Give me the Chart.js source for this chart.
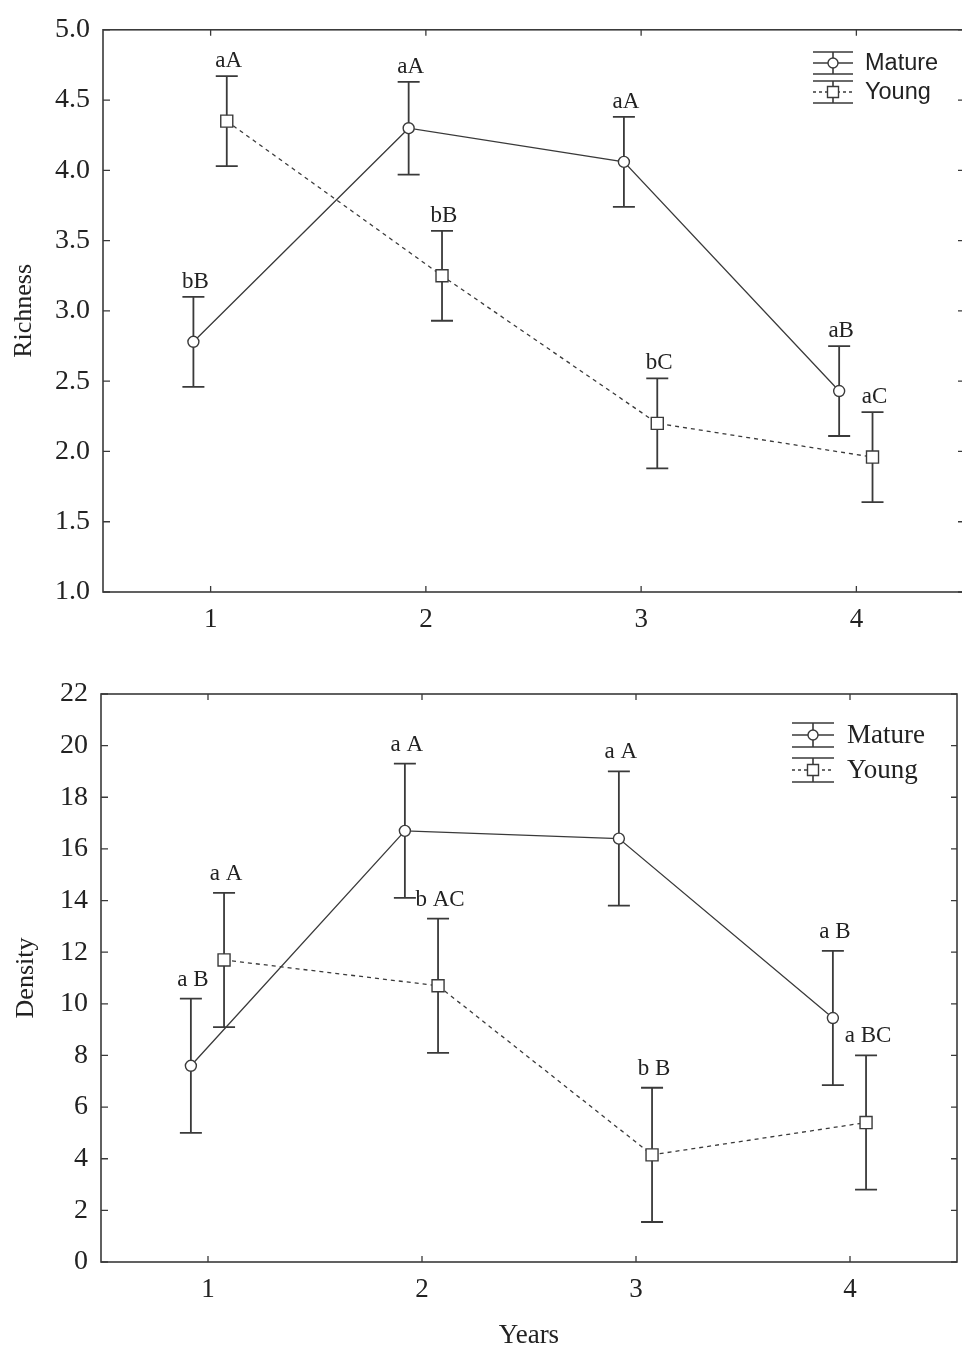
<!DOCTYPE html>
<html>
<head>
<meta charset="utf-8">
<title>Richness and density by year</title>
<script src="https://cdn.jsdelivr.net/npm/chart.js@4.4.1/dist/chart.umd.min.js"></script>
<style>
  html, body { margin: 0; padding: 0; background: #fff; overflow: hidden; }
  body { width: 962px; height: 1347px; position: relative; }
  canvas { position: absolute; left: 0; }
  #richness { top: 0; }
  #density { top: 660px; }
</style>
</head>
<body>
<canvas id="richness" width="970" height="660"></canvas>
<canvas id="density" width="962" height="687"></canvas>
<script>
// values per year, mean and half error bar
const years = [1, 2, 3, 4];
const xTicks = [1, 2, 3, 4];

const richnessMature = [2.78, 4.30, 4.06, 2.43];
const richnessMatureErr = [0.32, 0.33, 0.32, 0.32];
const richnessYoung = [4.35, 3.25, 2.20, 1.96];
const richnessYoungErr = [0.32, 0.32, 0.32, 0.32];
const richnessMatureLetters = ['bB', 'aA', 'aA', 'aB'];
const richnessYoungLetters = ['aA', 'bB', 'bC', 'aC'];

const densityMature = [7.6, 16.7, 16.4, 9.45];
const densityMatureErr = [2.6, 2.6, 2.6, 2.6];
const densityYoung = [11.7, 10.7, 4.15, 5.4];
const densityYoungErr = [2.6, 2.6, 2.6, 2.6];
const densityMatureLetters = ['a B', 'a A', 'a A', 'a B'];
const densityYoungLetters = ['a A', 'b AC', 'b B', 'a BC'];

const inkColor = '#3a3a3a';
const textColor = '#222';
const serif = '"Liberation Serif", "Times New Roman", serif';
const sans = '"Liberation Sans", Arial, sans-serif';

function seriesPoints(values, shift) {
    return years.map((yr, i) => ({ x: yr + shift, y: values[i] }));
}

function drawMarker(ctx, kind, x, y) {
    ctx.beginPath();
    if (kind === 'circle') ctx.arc(x, y, 5, 0, Math.PI * 2);
    else ctx.rect(x - 5.5, y - 5.5, 11, 11);
    ctx.fillStyle = '#fff';
    ctx.fill();
    ctx.stroke();
}

const groupMarks = {
    id: 'groupMarks',
    beforeDatasetsDraw(chart) {
        // error bars go under the markers
        const ctx = chart.ctx;
        const yScale = chart.scales.y;
        ctx.save();
        ctx.strokeStyle = inkColor;
        ctx.lineWidth = 1.8;
        chart.data.datasets.forEach((ds, di) => {
            chart.getDatasetMeta(di).data.forEach((pt, i) => {
                const v = ds.data[i].y;
                const e = ds.errors[i];
                const top = yScale.getPixelForValue(v + e);
                const bot = yScale.getPixelForValue(v - e);
                ctx.beginPath();
                ctx.moveTo(pt.x, top); ctx.lineTo(pt.x, bot);
                ctx.moveTo(pt.x - 11, top); ctx.lineTo(pt.x + 11, top);
                ctx.moveTo(pt.x - 11, bot); ctx.lineTo(pt.x + 11, bot);
                ctx.stroke();
            });
        });
        ctx.restore();
    },
    afterDraw(chart, args, opts) {
        const ctx = chart.ctx;
        const area = chart.chartArea;
        const xScale = chart.scales.x;
        const yScale = chart.scales.y;
        ctx.save();

        // box round the plot, ticks pointing inside on all four sides
        ctx.strokeStyle = inkColor;
        ctx.lineWidth = 1.6;
        ctx.strokeRect(area.left, area.top, area.right - area.left, area.bottom - area.top);
        ctx.lineWidth = 1.3;
        ctx.beginPath();
        xScale.ticks.forEach(t => {
            const px = xScale.getPixelForValue(t.value);
            ctx.moveTo(px, area.bottom); ctx.lineTo(px, area.bottom - 6);
            ctx.moveTo(px, area.top); ctx.lineTo(px, area.top + 6);
        });
        yScale.ticks.forEach(t => {
            const py = yScale.getPixelForValue(t.value);
            ctx.moveTo(area.left, py); ctx.lineTo(area.left + 7, py);
            ctx.moveTo(area.right, py); ctx.lineTo(area.right - 6, py);
        });
        ctx.stroke();

        // group letters above each upper error cap
        ctx.fillStyle = textColor;
        ctx.font = opts.letterFont;
        ctx.textAlign = 'center';
        ctx.textBaseline = 'alphabetic';
        chart.data.datasets.forEach((ds, di) => {
            chart.getDatasetMeta(di).data.forEach((pt, i) => {
                const top = yScale.getPixelForValue(ds.data[i].y + ds.errors[i]);
                ctx.fillText(ds.letters[i], pt.x + 2, top - opts.letterGap);
            });
        });

        // legend with error bar symbols
        const lg = opts.legend;
        ctx.font = lg.font;
        ctx.textAlign = 'left';
        ctx.textBaseline = 'middle';
        chart.data.datasets.forEach((ds, di) => {
            const cy = lg.y + di * lg.rowGap;
            const cx = lg.x;
            ctx.strokeStyle = inkColor;
            ctx.lineWidth = 1.6;
            ctx.setLineDash([]);
            ctx.beginPath();
            ctx.moveTo(cx - lg.half, cy - lg.cap); ctx.lineTo(cx + lg.half, cy - lg.cap);
            ctx.moveTo(cx - lg.half, cy + lg.cap); ctx.lineTo(cx + lg.half, cy + lg.cap);
            ctx.moveTo(cx, cy - lg.cap); ctx.lineTo(cx, cy + lg.cap);
            ctx.stroke();
            ctx.beginPath();
            if (ds.borderDash) ctx.setLineDash([3, 3]);
            ctx.moveTo(cx - lg.half, cy); ctx.lineTo(cx + lg.half, cy);
            ctx.stroke();
            ctx.setLineDash([]);
            ctx.lineWidth = 1.4;
            drawMarker(ctx, ds.pointStyle, cx, cy);
            ctx.fillStyle = textColor;
            ctx.fillText(ds.label, lg.textX, cy + 1);
        });
        ctx.restore();
    }
};

function buildChart(id, cfg) {
    return new Chart(document.getElementById(id), {
        type: 'line',
        data: {
            datasets: [
                {
                    label: 'Mature',
                    data: seriesPoints(cfg.mature, -0.08),
                    errors: cfg.matureErr,
                    letters: cfg.matureLetters,
                    borderColor: inkColor,
                    borderWidth: 1.3,
                    pointStyle: 'circle',
                    pointRadius: 5.5,
                    pointBackgroundColor: '#fff',
                    pointBorderColor: inkColor,
                    pointBorderWidth: 1.4,
                    tension: 0
                },
                {
                    label: 'Young',
                    data: seriesPoints(cfg.young, 0.075),
                    errors: cfg.youngErr,
                    letters: cfg.youngLetters,
                    borderColor: inkColor,
                    borderWidth: 1.3,
                    borderDash: [4, 4],
                    pointStyle: 'rect',
                    pointRadius: 8.5,
                    pointBackgroundColor: '#fff',
                    pointBorderColor: inkColor,
                    pointBorderWidth: 1.4,
                    tension: 0
                }
            ]
        },
        options: {
            responsive: false,
            animation: false,
            devicePixelRatio: 1,
            layout: { padding: cfg.padding, autoPadding: false },
            plugins: {
                legend: { display: false },
                tooltip: { enabled: false },
                groupMarks: cfg.marks
            },
            scales: {
                x: {
                    type: 'linear',
                    min: 0.5,
                    max: 4.5,
                    grid: { display: false, drawTicks: false },
                    border: { display: false },
                    afterBuildTicks: s => { s.ticks = xTicks.map(v => ({ value: v })); },
                    afterFit: s => { s.height = cfg.xHeight; },
                    ticks: { padding: 12, color: textColor, font: { family: serif, size: 27 } },
                    title: cfg.xTitle
                },
                y: {
                    min: cfg.yMin,
                    max: cfg.yMax,
                    grid: { display: false, drawTicks: false },
                    border: { display: false },
                    afterFit: s => { s.width = cfg.yWidth; },
                    ticks: {
                        stepSize: cfg.yStep,
                        padding: 13,
                        color: textColor,
                        font: { family: serif, size: 28 },
                        callback: cfg.yFormat
                    },
                    title: {
                        display: true,
                        text: cfg.yLabel,
                        color: textColor,
                        font: { family: serif, size: 26 },
                        padding: { top: cfg.yTitlePad, bottom: 0 }
                    }
                }
            }
        },
        plugins: [groupMarks]
    });
}

buildChart('richness', {
    mature: richnessMature, matureErr: richnessMatureErr, matureLetters: richnessMatureLetters,
    young: richnessYoung, youngErr: richnessYoungErr, youngLetters: richnessYoungLetters,
    yMin: 1, yMax: 5, yStep: 0.5, yFormat: v => v.toFixed(1),
    yLabel: 'Richness', yTitlePad: 9, yWidth: 103, xHeight: 68,
    xTitle: { display: false },
    padding: { top: 24, right: 6, left: 0, bottom: 0 },
    marks: {
        letterGap: 9,
        letterFont: '23px ' + serif,
        legend: { x: 833, y: 63, rowGap: 29, half: 20, cap: 11, textX: 865, font: '23.5px ' + sans }
    }
});

buildChart('density', {
    mature: densityMature, matureErr: densityMatureErr, matureLetters: densityMatureLetters,
    young: densityYoung, youngErr: densityYoungErr, youngLetters: densityYoungLetters,
    yMin: 0, yMax: 22, yStep: 2, yFormat: v => String(v),
    yLabel: 'Density', yTitlePad: 11, yWidth: 101, xHeight: 85,
    xTitle: {
        display: true, text: 'Years', color: textColor,
        font: { family: serif, size: 27, lineHeight: 1 },
        padding: { top: 0, bottom: -2 }
    },
    padding: { top: 34, right: 5, left: 0, bottom: 0 },
    marks: {
        letterGap: 13,
        letterFont: '23px ' + serif,
        legend: { x: 813, y: 75, rowGap: 35, half: 21, cap: 12, textX: 847, font: '27px ' + serif }
    }
});
</script>
</body>
</html>
